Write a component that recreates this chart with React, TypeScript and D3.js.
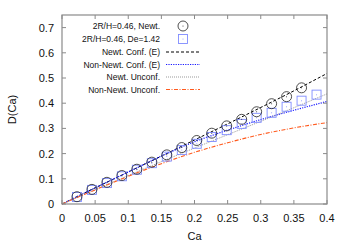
import React from "react";
import * as d3 from "d3";

// Ca grid for the model curves
const caGrid = [0, 0.05, 0.1, 0.15, 0.2, 0.25, 0.3, 0.35, 0.4];
const newtConf = [0, 0.064, 0.127, 0.19, 0.254, 0.318, 0.383, 0.449, 0.518];
const nonNewtConf = [0, 0.064, 0.127, 0.19, 0.247, 0.293, 0.335, 0.372, 0.407];
const newtUnconf = [0, 0.057, 0.113, 0.168, 0.222, 0.275, 0.328, 0.382, 0.437];
const nonNewtUnconf = [0, 0.056, 0.11, 0.16, 0.205, 0.243, 0.276, 0.302, 0.323];

// simulation points
const caNewt = [0.0226, 0.0452, 0.0678, 0.0904, 0.113, 0.1356, 0.1582, 0.1808, 0.2034, 0.226, 0.2486, 0.2712, 0.2938, 0.3164, 0.339, 0.3616];
const dNewt = [0.029, 0.058, 0.086, 0.113, 0.138, 0.166, 0.195, 0.224, 0.252, 0.281, 0.31, 0.336, 0.366, 0.398, 0.426, 0.461];
const caDe = [0.0226, 0.0452, 0.0678, 0.0904, 0.113, 0.1356, 0.1582, 0.1808, 0.2034, 0.226, 0.2486, 0.2712, 0.2938, 0.3164, 0.339, 0.3616, 0.3842];
const dDe = [0.028, 0.056, 0.083, 0.11, 0.136, 0.162, 0.188, 0.214, 0.239, 0.266, 0.293, 0.318, 0.342, 0.362, 0.386, 0.41, 0.434];

const xTicks = [0, 0.05, 0.1, 0.15, 0.2, 0.25, 0.3, 0.35, 0.4];
const yTicks = [0, 0.1, 0.2, 0.3, 0.4, 0.5, 0.6, 0.7];

const W = 350;
const H = 245;
const margin = { left: 62, right: 23, top: 15, bottom: 41 };
const font = "'Liberation Sans', Arial, sans-serif";
const frame = "#8a8a8a";

const curves = [
  { label: "Newt. Conf. (E)", values: newtConf, color: "#000000", dash: "3,2", width: 1 },
  { label: "Non-Newt. Conf. (E)", values: nonNewtConf, color: "#1a1aff", dash: "1.2,1.2", width: 1.2 },
  { label: "Newt. Unconf.", values: newtUnconf, color: "#999999", dash: "1,1", width: 1 },
  { label: "Non-Newt. Unconf.", values: nonNewtUnconf, color: "#ff5a1e", dash: "4,1.5,1,1.5", width: 1.1 },
];

function Circle({ cx, cy }: { cx: number; cy: number }) {
  return (
    <g>
      <circle cx={cx} cy={cy} r={5} fill="none" stroke="#222" strokeWidth={0.8} />
      <circle cx={cx} cy={cy} r={0.5} fill="#222" />
    </g>
  );
}

function Square({ cx, cy }: { cx: number; cy: number }) {
  return (
    <g>
      <rect x={cx - 4.5} y={cy - 4.5} width={9} height={9} fill="none" stroke="#7f8cff" strokeWidth={0.9} />
      <circle cx={cx} cy={cy} r={0.5} fill="#7f8cff" />
    </g>
  );
}

export default function App() {
  const x = d3.scaleLinear().domain([0, 0.4]).range([margin.left, W - margin.right]);
  const y = d3.scaleLinear().domain([0, 0.75]).range([H - margin.bottom, margin.top]);

  const line = (vals: number[]) =>
    d3
      .line<number>()
      .x((_, i) => x(caGrid[i]))
      .y((v) => y(v))
      .curve(d3.curveMonotoneX)(vals) || "";

  const x0 = margin.left;
  const x1 = W - margin.right;
  const y0 = H - margin.bottom;
  const y1 = margin.top;
  const tl = 4;

  const legendTextX = 160;
  const legendY = [26, 39, 52, 64.5, 77, 89.5];

  return (
    <svg width={W} height={H} style={{ position: "absolute", left: 0, top: 0, background: "#fff" }} fontFamily={font}>
      {/* curves */}
      {curves.map((c) => (
        <path key={c.label} d={line(c.values)} fill="none" stroke={c.color} strokeWidth={c.width} strokeDasharray={c.dash} />
      ))}

      {/* points */}
      {caDe.map((c, i) => (
        <Square key={"s" + i} cx={x(c)} cy={y(dDe[i])} />
      ))}
      {caNewt.map((c, i) => (
        <Circle key={"c" + i} cx={x(c)} cy={y(dNewt[i])} />
      ))}

      {/* frame + ticks */}
      <rect x={x0} y={y1} width={x1 - x0} height={y0 - y1} fill="none" stroke={frame} strokeWidth={1.2} />
      {xTicks.map((t) => (
        <g key={"x" + t}>
          <line x1={x(t)} x2={x(t)} y1={y0} y2={y0 - tl} stroke={frame} />
          <line x1={x(t)} x2={x(t)} y1={y1} y2={y1 + tl} stroke={frame} />
          <text x={x(t)} y={y0 + 18} fontSize={11} textAnchor="middle" fill="#111">
            {String(t)}
          </text>
        </g>
      ))}
      {yTicks.map((t) => (
        <g key={"y" + t}>
          <line x1={x0} x2={x0 + tl} y1={y(t)} y2={y(t)} stroke={frame} />
          <line x1={x1} x2={x1 - tl} y1={y(t)} y2={y(t)} stroke={frame} />
          <text x={x0 - 8} y={y(t) + 4} fontSize={11} textAnchor="end" fill="#111">
            {String(t)}
          </text>
        </g>
      ))}

      {/* axis labels */}
      <text x={(x0 + x1) / 2} y={240} fontSize={11} textAnchor="middle" fill="#111">
        Ca
      </text>
      <text transform={`translate(16, ${(y0 + y1) / 2}) rotate(-90)`} fontSize={11} textAnchor="middle" fill="#111">
        D(Ca)
      </text>

      {/* legend */}
      <g fontSize={8.5} fill="#111">
        <text x={legendTextX} y={legendY[0] + 3} textAnchor="end">2R/H=0.46, Newt.</text>
        <Circle cx={183} cy={legendY[0]} />
        <text x={legendTextX} y={legendY[1] + 3} textAnchor="end">2R/H=0.46, De=1.42</text>
        <Square cx={183} cy={legendY[1]} />
        {curves.map((c, i) => (
          <g key={"l" + c.label}>
            <text x={legendTextX} y={legendY[i + 2] + 3} textAnchor="end">{c.label}</text>
            <line x1={166} x2={200} y1={legendY[i + 2]} y2={legendY[i + 2]} stroke={c.color} strokeWidth={c.width} strokeDasharray={c.dash} />
          </g>
        ))}
      </g>
    </svg>
  );
}
